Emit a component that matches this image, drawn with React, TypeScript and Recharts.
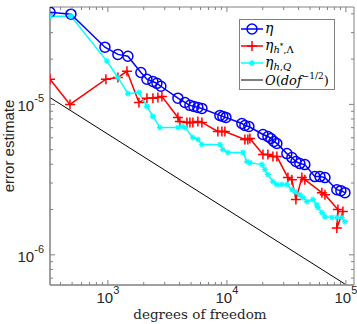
import React from "react";
import { LineChart, Line, XAxis, YAxis, ReferenceArea, Legend } from "recharts";

const W = 357;
const H = 324;
const MARGIN = { top: 7, right: 3, left: 0, bottom: 0 };
const TOP = MARGIN.top;
const RIGHT = W - MARGIN.right;
const FRAME = "#808080";
const TXT = "#262626";
const BLUE = "#0000ff";
const RED = "#ff0000";
const CYAN = "#00ffff";
const SERIF = "'DejaVu Serif', 'Liberation Serif', serif";
const SANS = "'Liberation Sans', Arial, sans-serif";

const xDomain = [326, 117000];
const yDomain = [6.3e-7, 4.44e-5];

const xTicks = [
  400, 500, 600, 700, 800, 900, 1000, 2000, 3000, 4000, 5000, 6000, 7000, 8000, 9000,
  10000, 20000, 30000, 40000, 50000, 60000, 70000, 80000, 90000, 100000,
];
const yTicks = [
  7e-7, 8e-7, 9e-7, 1e-6, 2e-6, 3e-6, 4e-6, 5e-6, 6e-6, 7e-6, 8e-6, 9e-6, 1e-5, 2e-5, 3e-5, 4e-5,
];

// eta (blue circles)
const etaDof = [
  326, 489, 944, 1213, 1472, 1893, 2127, 2388, 2582, 2786, 3874, 4436, 4887, 5281, 5702, 6166,
  8730, 9249, 9811, 13360, 14160, 15310, 20090, 22110, 23440, 24830, 26300, 31920, 35160, 38020,
  41020, 45190, 54830, 60530, 66680, 83950, 90780, 98170,
];
const etaVal = [
  4.1e-5, 3.98e-5, 2.4e-5, 2.15e-5, 2.09e-5, 1.63e-5, 1.47e-5, 1.42e-5, 1.38e-5, 1.32e-5, 1.1e-5,
  1.03e-5, 9.85e-6, 9.7e-6, 9.55e-6, 9.4e-6, 8.45e-6, 8.32e-6, 8.19e-6, 7.47e-6, 7.24e-6, 7.13e-6,
  6.31e-6, 6.12e-6, 5.93e-6, 5.67e-6, 5.5e-6, 4.71e-6, 4.43e-6, 4.17e-6, 4.04e-6, 3.98e-6, 3.31e-6,
  3.31e-6, 3.26e-6, 2.71e-6, 2.67e-6, 2.59e-6,
];

// eta_{h*,Lambda} (red plus)
const lamDof = [
  326, 480, 962, 1213, 1445, 1822, 2127, 2388, 2630, 2843, 3874, 4027, 4613, 4887, 5176, 5702,
  6166, 8395, 9078, 9618, 14160, 15000, 15600, 20090, 22110, 24370, 26300, 32570, 35160, 38020,
  42660, 45190, 62810, 66680, 85700, 83950, 94410,
];
const lamVal = [
  1.47e-5, 1.0e-5, 1.47e-5, 1.51e-5, 1.66e-5, 1.03e-5, 1.1e-5, 1.1e-5, 1.11e-5, 1.13e-5, 8.19e-6,
  7.7e-6, 7.59e-6, 7.59e-6, 7.59e-6, 7.7e-6, 7.59e-6, 6.61e-6, 6.61e-6, 6.61e-6, 5.85e-6, 5.85e-6,
  5.93e-6, 4.64e-6, 4.64e-6, 4.5e-6, 4.5e-6, 3.26e-6, 3.16e-6, 2.33e-6, 3.26e-6, 3.16e-6, 2.59e-6,
  2.51e-6, 2.0e-6, 1.51e-6, 1.94e-6,
];

// eta_{h,Q} (cyan asterisk)
const quadDof = [
  326, 489, 981, 1213, 1472, 1822, 2127, 2388, 2735, 3874, 4188, 4436, 5176, 5702, 6166, 8730,
  9249, 10190, 13620, 14720, 15600, 19680, 20850, 22110, 24370, 26300, 28970, 31920, 35160, 37240,
  41020, 43550, 46990, 52840, 57020, 58210, 62810, 66680, 76230, 83950, 92470, 98170,
];
const quadVal = [
  3.86e-5, 3.86e-5, 1.94e-5, 1.51e-5, 1.18e-5, 1.2e-5, 9.7e-6, 8.32e-6, 7.03e-6, 7.03e-6, 7.13e-6,
  7.03e-6, 6.03e-6, 5.85e-6, 5.41e-6, 5.41e-6, 5.01e-6, 4.79e-6, 4.79e-6, 4.17e-6, 4.1e-6, 3.98e-6,
  3.69e-6, 3.42e-6, 3.07e-6, 2.93e-6, 2.93e-6, 2.93e-6, 2.71e-6, 2.63e-6, 2.51e-6, 2.4e-6, 2.26e-6,
  2.33e-6, 2.15e-6, 2.06e-6, 1.91e-6, 1.79e-6, 1.77e-6, 1.77e-6, 1.77e-6, 1.66e-6,
];

// O(dof^-1/2) reference line
const refDof = [326, 98000];
const refVal = [1.11e-5, 6.4e-7];

const zip = (xs: number[], ys: number[]) => xs.map((x, i) => ({ x, y: ys[i] }));
const etaData = zip(etaDof, etaVal);
const lamData = zip(lamDof, lamVal);
const quadData = zip(quadDof, quadVal);
const refData = zip(refDof, refVal);

const isMajor = (v: number) => Math.abs(Math.log10(v) - Math.round(Math.log10(v))) < 1e-6;

const XTick = (p: any) => {
  const { x, y, payload } = p;
  const major = isMajor(payload.value);
  const len = major ? 5 : 3;
  return (
    <g>
      <line x1={x} x2={x} y1={y} y2={y - len} stroke={FRAME} />
      <line x1={x} x2={x} y1={TOP} y2={TOP + len} stroke={FRAME} />
      {major && (
        <text x={x} y={y + 18} textAnchor="middle" fontSize={15} fill={TXT} style={{ fontFamily: SANS }}>
          <tspan>10</tspan>
          <tspan dy={-9} fontSize={11}>{Math.round(Math.log10(payload.value))}</tspan>
        </text>
      )}
    </g>
  );
};

const YTick = (p: any) => {
  const { x, y, payload } = p;
  const major = isMajor(payload.value);
  const len = major ? 5 : 3;
  return (
    <g>
      <line x1={x} x2={x + len} y1={y} y2={y} stroke={FRAME} />
      <line x1={RIGHT} x2={RIGHT - len} y1={y} y2={y} stroke={FRAME} />
      {major && (
        <text x={x - 6} y={y + 7} textAnchor="end" fontSize={15} fill={TXT} style={{ fontFamily: SANS }}>
          <tspan>10</tspan>
          <tspan dy={-9} fontSize={11}>{Math.round(Math.log10(payload.value))}</tspan>
        </text>
      )}
    </g>
  );
};

const circleDot = (p: any) => (
  <circle key={`c${p.index}`} cx={p.cx} cy={p.cy} r={5} fill="none" stroke={BLUE} strokeWidth={1.5} />
);

const plusDot = (p: any) => (
  <path key={`p${p.index}`} d={`M${p.cx - 5},${p.cy}H${p.cx + 5}M${p.cx},${p.cy - 5}V${p.cy + 5}`} stroke={RED} strokeWidth={1.5} />
);

const starPath = (cx: number, cy: number, s: number) =>
  `M${cx - s},${cy}H${cx + s}M${cx},${cy - s}V${cy + s}M${cx - s * 0.7},${cy - s * 0.7}L${cx + s * 0.7},${cy + s * 0.7}M${cx - s * 0.7},${cy + s * 0.7}L${cx + s * 0.7},${cy - s * 0.7}`;

const starDot = (p: any) => (
  <path key={`s${p.index}`} d={starPath(p.cx, p.cy, 3)} stroke={CYAN} strokeWidth={1.2} />
);

const LegendBox = () => {
  const rows = [10, 27, 44, 61];
  return (
    <svg width={96} height={71} style={{ display: "block" }}>
      <rect x={0.5} y={0.5} width={95} height={70} fill="#fff" stroke={FRAME} />
      <line x1={2} x2={24} y1={rows[0]} y2={rows[0]} stroke={BLUE} strokeWidth={1.5} />
      <circle cx={13} cy={rows[0]} r={5} fill="none" stroke={BLUE} strokeWidth={1.5} />
      <line x1={2} x2={24} y1={rows[1]} y2={rows[1]} stroke={RED} strokeWidth={1.5} />
      <path d={`M8,${rows[1]}H18M13,${rows[1] - 5}V${rows[1] + 5}`} stroke={RED} strokeWidth={1.5} />
      <line x1={2} x2={24} y1={rows[2]} y2={rows[2]} stroke={CYAN} strokeWidth={1.5} />
      <path d={starPath(13, rows[2], 3)} stroke={CYAN} strokeWidth={1.2} />
      <line x1={2} x2={24} y1={rows[3]} y2={rows[3]} stroke="#000" strokeWidth={1} />
      <g style={{ fontFamily: SERIF }} fill="#000" fontStyle="italic">
        <text x={26} y={rows[0] + 4} fontSize={14}>η</text>
        <text x={26} y={rows[1] + 4} fontSize={14}>
          <tspan>η</tspan>
          <tspan dy={3} fontSize={10}>h</tspan>
          <tspan dy={-5} fontSize={7}>*</tspan>
          <tspan dy={5} fontSize={10} fontStyle="normal">,Λ</tspan>
        </text>
        <text x={26} y={rows[2] + 4} fontSize={14}>
          <tspan>η</tspan>
          <tspan dy={3} fontSize={10}>h</tspan>
          <tspan fontSize={10} fontStyle="normal">,</tspan>
          <tspan fontSize={10}>Q</tspan>
        </text>
        <text x={26} y={rows[3] + 5} fontSize={13}>
          <tspan>O</tspan>
          <tspan fontStyle="normal">(</tspan>
          <tspan>dof</tspan>
          <tspan dy={-6} fontSize={9} fontStyle="normal">−1/2</tspan>
          <tspan dy={6} fontStyle="normal">)</tspan>
        </text>
      </g>
    </svg>
  );
};

export default function App() {
  return (
    <div style={{ position: "absolute", left: 0, top: 0, width: W, height: H, background: "#fff" }}>
      <LineChart width={W} height={H} margin={MARGIN}>
        <XAxis
          dataKey="x"
          type="number"
          scale="log"
          domain={xDomain}
          allowDataOverflow
          ticks={xTicks}
          interval={0}
          tick={<XTick />}
          tickLine={false}
          tickSize={0}
          tickMargin={0}
          height={39}
          axisLine={{ stroke: FRAME }}
          label={(p: any) => {
            const vb = p.viewBox;
            return (
              <text x={vb.x + vb.width / 2 - 2} y={vb.y + 34} textAnchor="middle" fontSize={13.5} fill={TXT} style={{ fontFamily: SERIF }}>
                degrees of freedom
              </text>
            );
          }}
        />
        <YAxis
          dataKey="y"
          type="number"
          scale="log"
          domain={yDomain}
          allowDataOverflow
          ticks={yTicks}
          interval={0}
          tick={<YTick />}
          tickLine={false}
          tickSize={0}
          tickMargin={0}
          width={50}
          axisLine={{ stroke: FRAME }}
          label={(p: any) => {
            const vb = p.viewBox;
            const cy = vb.y + vb.height / 2;
            return (
              <text x={14} y={cy} transform={`rotate(-90 14 ${cy})`} textAnchor="middle" fontSize={15} fill={TXT} style={{ fontFamily: SANS }}>
                error estimate
              </text>
            );
          }}
        />
        <ReferenceArea x1={xDomain[0]} x2={xDomain[1]} y1={yDomain[0]} y2={yDomain[1]} fill="none" stroke={FRAME} ifOverflow="visible" />
        <Line data={etaData} dataKey="y" stroke={BLUE} strokeWidth={1.5} dot={circleDot} activeDot={false} isAnimationActive={false} />
        <Line data={lamData} dataKey="y" stroke={RED} strokeWidth={1.5} dot={plusDot} activeDot={false} isAnimationActive={false} />
        <Line data={quadData} dataKey="y" stroke={CYAN} strokeWidth={1.5} dot={starDot} activeDot={false} isAnimationActive={false} />
        <Line data={refData} dataKey="y" stroke="#000" strokeWidth={1} dot={false} activeDot={false} isAnimationActive={false} />
        <Legend
          layout="horizontal"
          verticalAlign="middle"
          align="center"
          content={() => <LegendBox />}
          wrapperStyle={{ left: 239, top: 19, width: 96, height: 71 }}
        />
      </LineChart>
    </div>
  );
}
